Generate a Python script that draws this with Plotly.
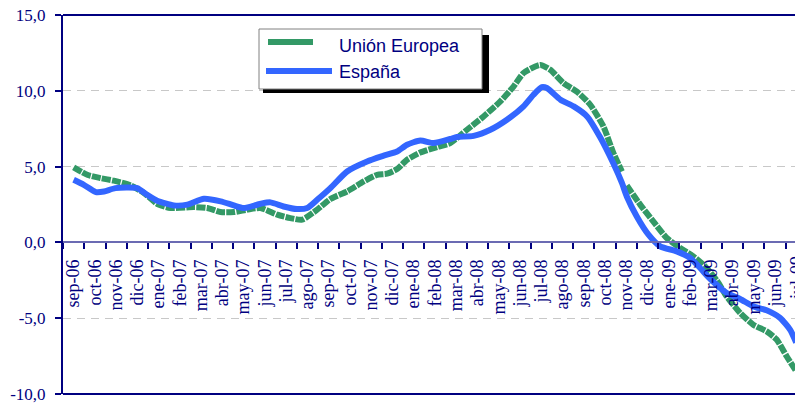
import plotly.graph_objects as go

# ---- data ----
meses = ["sep-06", "oct-06", "nov-06", "dic-06", "ene-07", "feb-07", "mar-07", "abr-07",
         "may-07", "jun-07", "jul-07", "ago-07", "sep-07", "oct-07", "nov-07", "dic-07",
         "ene-08", "feb-08", "mar-08", "abr-08", "may-08", "jun-08", "jul-08", "ago-08",
         "sep-08", "oct-08", "nov-08", "dic-08", "ene-09", "feb-09", "mar-09", "abr-09",
         "may-09", "jun-09", "jul-09"]

y_tickvals = [-10, -5, 0, 5, 10, 15]
y_ticktext = ["-10,0", "-5,0", "0,0", "5,0", "10,0", "15,0"]

# position in months since sep-06 (fractional) and value
ue_mes = [0, 0.64, 1.27, 1.89, 2.68, 3.31, 3.94, 4.56, 5.66, 6.29, 6.91, 7.54, 8.17, 8.79,
          9.58, 10.20, 10.75, 11.46, 12.08, 12.87, 13.65, 14.28, 14.75, 15.22, 15.69, 16.31,
          17.10, 17.72, 18.51, 19.29, 20.08, 20.70, 21.17, 21.96, 22.43, 23.05, 23.68, 24.31,
          24.93, 25.40, 25.80, 25.92, 26.03, 26.66, 27.21, 27.91, 28.54, 29.16, 29.71, 30.26,
          30.73, 31.36, 31.98, 32.61, 33.08, 33.55, 34.0]
ue_val = [4.95, 4.46, 4.24, 4.07, 3.76, 3.26, 2.53, 2.27, 2.33, 2.27, 2.0, 2.0, 2.16, 2.27,
          1.83, 1.6, 1.5, 2.16, 2.86, 3.36, 4.02, 4.46, 4.53, 4.84, 5.45, 5.93,
          6.29, 6.55, 7.43, 8.31, 9.3, 10.28, 11.17, 11.71, 11.39, 10.51, 9.95, 9.08,
          7.65, 5.89, 4.68, None, 3.75, 2.49, 1.5, 0.29, -0.37, -0.92, -1.58, -2.5,
          -3.56, -4.65, -5.43, -5.87, -6.41, -7.51, -8.5]

es_mes = [0, 0.48, 1.05, 1.43, 1.97, 2.99, 3.46, 3.93, 4.72, 5.35, 6.13, 6.92, 7.54, 8.0,
          8.8, 9.26, 9.88, 10.51, 10.99, 11.46, 12.08, 12.87, 13.81, 14.59, 15.22, 15.69,
          16.31, 16.94, 17.72, 18.04, 18.82, 19.61, 20.39, 21.17, 21.64, 22.03, 22.27, 22.91,
          23.53, 24.16, 24.79, 25.40, 25.80, 26.03, 26.50, 27.05, 27.60, 28.38, 29.01, 29.48,
          29.95, 30.73, 31.36, 31.98, 32.61, 33.24, 33.71, 34.0]
es_val = [4.13, 3.8, 3.32, 3.36, 3.58, 3.58, 3.14, 2.75, 2.44, 2.49, 2.88, 2.71, 2.44, 2.27,
          2.55, 2.64, 2.37, 2.2, 2.27, 2.81, 3.58, 4.68, 5.34, 5.72, 6.0, 6.44,
          6.72, 6.55, 6.82, 6.95, 7.03, 7.43, 8.09, 8.97, 9.74, 10.24, 10.18, 9.41,
          8.97, 8.31, 6.9, 5.2, 3.92, 3.03, 1.71, 0.51, -0.26, -0.59, -1.03, -1.69,
          -2.4, -3.34, -3.73, -4.22, -4.48, -4.98, -5.75, -6.6]

# ---- style ----
NAVY = "#000080"
GREEN = "#339966"
BLUE = "#3366FF"
W, H = 795, 403
ML, MR, MT, MB = 63, 0, 15, 9
PW, PH = W - ML - MR, H - MT - MB


def px(x):
    return (x - ML) / PW


def py(y):
    return (H - MB - y) / PH


fig = go.Figure()
fig.add_trace(go.Scatter(x=ue_mes, y=ue_val, mode="lines", name="Unión Europea",
                         connectgaps=False,
                         line=dict(color=GREEN, width=6, dash="9px,1.2px",
                                   shape="spline", smoothing=0.6)))
fig.add_trace(go.Scatter(x=es_mes, y=es_val, mode="lines", name="España",
                         line=dict(color=BLUE, width=6, shape="spline", smoothing=0.6)))

x_font = dict(family="Liberation Serif", size=18, color=NAVY)
y_font = dict(family="Liberation Serif", size=17, color=NAVY)

shapes = [
    # frame top / bottom
    dict(type="line", xref="paper", yref="paper", x0=0, x1=1, y0=1, y1=1,
         line=dict(color=NAVY, width=2)),
    dict(type="line", xref="paper", yref="paper", x0=0, x1=1, y0=0, y1=0,
         line=dict(color=NAVY, width=2)),
    # legend shadow and box
    dict(type="rect", xref="paper", yref="paper", x0=px(263), x1=px(489), y0=py(93), y1=py(35),
         fillcolor="black", line=dict(width=0)),
    dict(type="rect", xref="paper", yref="paper", x0=px(259), x1=px(482), y0=py(89), y1=py(29),
         fillcolor="white", line=dict(color="#808080", width=1)),
    dict(type="line", xref="paper", yref="paper", x0=px(268), x1=px(313), y0=py(42), y1=py(42),
         line=dict(color=GREEN, width=6)),
    dict(type="line", xref="paper", yref="paper", x0=px(266), x1=px(332), y0=py(71), y1=py(71),
         line=dict(color=BLUE, width=6)),
]

annotations = [
    dict(xref="paper", yref="paper", x=px(337), y=py(46), xanchor="left", yanchor="middle",
         text="Unión Europea", showarrow=False,
         font=dict(family="Liberation Sans", size=18, color=NAVY)),
    dict(xref="paper", yref="paper", x=px(337), y=py(72), xanchor="left", yanchor="middle",
         text="España", showarrow=False,
         font=dict(family="Liberation Sans", size=18, color=NAVY)),
    # last month label, partly cut by the page edge
    dict(xref="paper", yref="paper", x=px(797), y=py(254), xanchor="center", yanchor="top",
         text=meses[-1], textangle=-90, showarrow=False, font=x_font),
]

fig.update_layout(
    width=W, height=H,
    margin=dict(l=ML, r=MR, t=MT, b=MB, pad=0),
    paper_bgcolor="white", plot_bgcolor="white",
    showlegend=False,
    shapes=shapes, annotations=annotations,
    xaxis=dict(
        range=[-0.5, (W - 73) / 21.27],
        anchor="free", position=10 / 25,
        tickmode="array", tickvals=list(range(len(meses))), ticktext=meses,
        tickangle=-90, ticks="outside", ticklen=9, tickcolor="rgba(0,0,0,0)",
        tickfont=x_font,
        showline=True, linecolor="#6B6BB3", linewidth=2,
        showgrid=False, zeroline=False,
        minor=dict(tickmode="array", tickvals=[i - 0.5 for i in range(len(meses) + 1)],
                   ticks="outside", ticklen=6, tickcolor=NAVY, tickwidth=1.5,
                   showgrid=False),
    ),
    yaxis=dict(
        range=[-10, 15],
        tickmode="array", tickvals=y_tickvals, ticktext=y_ticktext,
        ticks="outside", ticklen=6, tickcolor=NAVY, tickwidth=1.5,
        tickfont=y_font, ticklabelstandoff=6, ticklabeloverflow="allow",
        showline=True, linecolor=NAVY, linewidth=2,
        showgrid=True, gridcolor="#C8C8C8", griddash="8px,6px", gridwidth=1,
        zeroline=False,
    ),
)

fig.write_html(
    "out.html",
    config={"displayModeBar": False},
    post_script="document.body.style.margin='0px';document.body.style.overflow='hidden';",
)
